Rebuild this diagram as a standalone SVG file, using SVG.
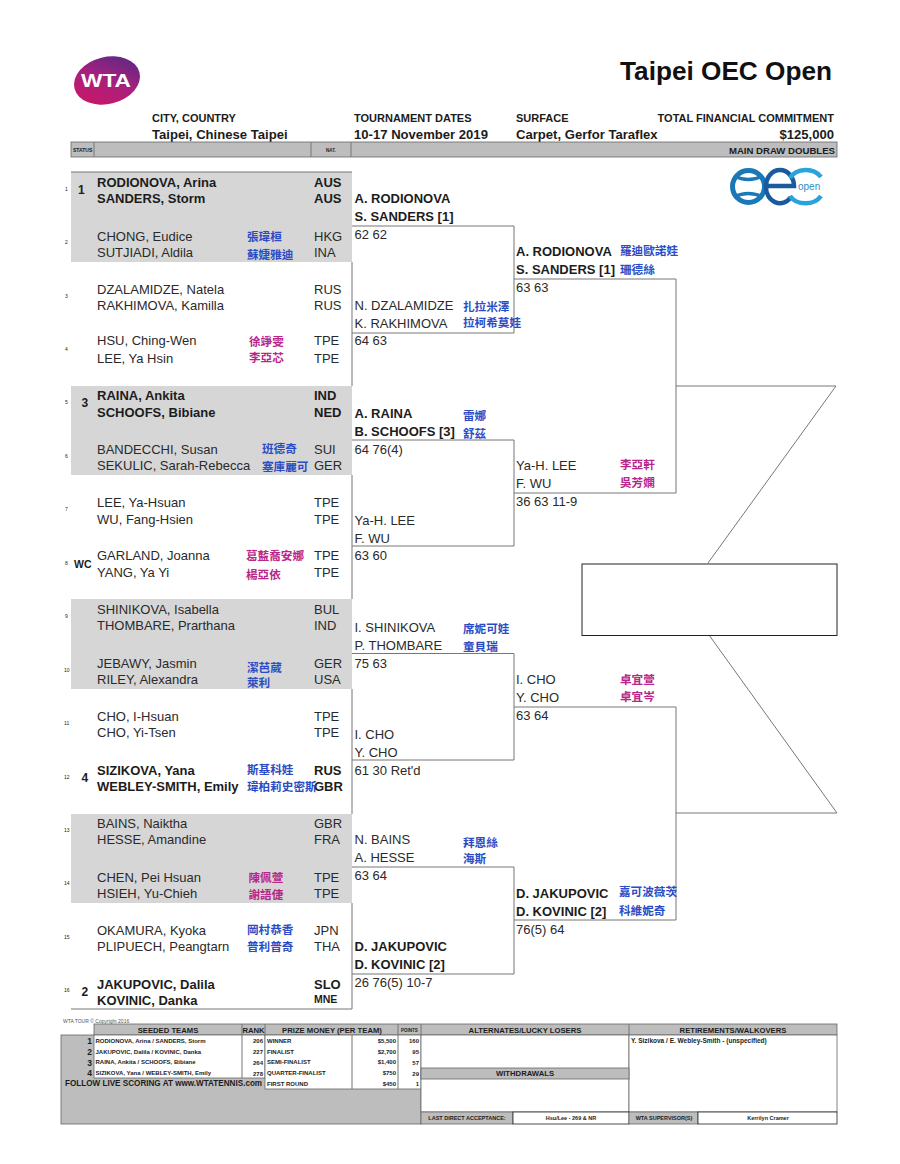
<svg xmlns="http://www.w3.org/2000/svg" width="900" height="1164" viewBox="0 0 900 1164">
<style>
text{font-family:"Liberation Sans",Arial,sans-serif;fill:#1c1c1c}
.h{font-size:11px;font-weight:700}
.s{font-size:13.100px;font-weight:700}
.n{font-size:13px;fill:#2a2a2a}
.b{font-size:13px;font-weight:700}
.c{font-size:11.600px;font-family:"Noto Sans CJK TC","Noto Sans CJK SC",sans-serif;font-weight:700}
.blue{fill:#2b4cc4}
.mag{fill:#b8268a}
.i{font-size:5px;fill:#555}
.sd{font-size:12px;font-weight:700}
.w{font-size:6px;font-weight:700}
.x{font-size:5.500px;font-weight:700;text-anchor:middle}
.f{font-size:7.700px;font-weight:700;text-anchor:middle}
.gl{fill:#d6d6d6}
.l{stroke:#777;stroke-width:1;fill:none}
.hd{fill:#bdbdbd;stroke:#666;stroke-width:.8}
.wt{fill:#fff;stroke:#666;stroke-width:.8}
</style>
<defs>
<linearGradient id="wg" x1="0" y1="1" x2="1" y2="0">
<stop offset="0" stop-color="#d4145f"/><stop offset=".5" stop-color="#a8207e"/><stop offset="1" stop-color="#4a2a86"/>
</linearGradient>
</defs>
<rect width="900" height="1164" fill="#fff"/>

<g id="wta-logo">
<ellipse cx="107" cy="80.500" rx="33.500" ry="23.500" fill="url(#wg)" transform="rotate(-14 107 80.500)"/>
<text x="81" y="87" textLength="50" lengthAdjust="spacingAndGlyphs" style="fill:#fff;font-size:19px;font-weight:700">WTA</text>
</g>
<text x="832" y="80" text-anchor="end" style="font-size:26.200px;font-weight:700;fill:#111">Taipei OEC Open</text>

<g id="header">
<text x="152" y="122" class="h">CITY, COUNTRY</text>
<text x="152" y="139" class="s">Taipei, Chinese Taipei</text>
<text x="354" y="122" class="h">TOURNAMENT DATES</text>
<text x="354" y="139" class="s">10-17 November 2019</text>
<text x="516" y="122" class="h">SURFACE</text>
<text x="516" y="139" class="s">Carpet, Gerfor Taraflex</text>
<text x="834" y="122" class="h" text-anchor="end">TOTAL FINANCIAL COMMITMENT</text>
<text x="834" y="139" class="s" text-anchor="end">$125,000</text>
<rect x="71" y="142" width="766" height="15" class="hd"/>
<path d="M94 142V157M311 142V157M351 142V157" class="l"/>
<text x="73" y="151.500" style="font-size:5px;font-weight:700">STATUS</text>
<text x="326" y="151.500" style="font-size:4.500px;font-weight:700">NAT.</text>
<text x="835" y="153.500" text-anchor="end" style="font-size:9.600px;font-weight:700">MAIN DRAW DOUBLES</text>
</g>

<g id="oec-logo" fill="none">
<ellipse cx="748.500" cy="186.500" rx="16" ry="16" stroke="#1878b8" stroke-width="5"/>
<path d="M734 176Q748 183 763 176M734 197Q748 190 763 197" stroke="#1878b8" stroke-width="3.500"/>
<path d="M768 186H794A14 16 0 0 0 766 186A14 16 0 0 0 791 197" stroke="#1a5a9e" stroke-width="4.500"/>
<path d="M821 177A18 15 0 0 0 790 178M790 196A18 15 0 0 0 821 196" stroke="#29a3dc" stroke-width="4.500"/>
<text x="798" y="190" style="font-size:10px;fill:#2b90c8">open</text>
</g>

<g id="bands">
<rect x="71" y="172" width="281" height="90" class="gl"/>
<rect x="71" y="386" width="281" height="89" class="gl"/>
<rect x="71" y="599" width="281" height="90" class="gl"/>
<rect x="71" y="814" width="281" height="89" class="gl"/>
<path d="M71 172H352M71 1009H352" class="l"/>
</g>

<g id="connectors">
<path d="M352 262V386M352 475V599M352 689V814M352 903V1009" class="l"/>
<path d="M352 226H514V333H352M352 440H514V546H352M352 653.500H514V760H352M352 867H514V974H352" class="l"/>
<path d="M514 279H676V493H514M514 707H676V920H514" class="l"/>
<path d="M676 386H836L708 563M709 635L837 813H676" class="l"/>
</g>
<rect id="final-box" x="582" y="564" width="255" height="71.500" fill="#fff" stroke="#222" stroke-width="1"/>

<g id="seed-numbers">
<g class="i"><text x="65" y="191">1</text><text x="65" y="244">2</text><text x="65" y="298">3</text><text x="65" y="351">4</text><text x="65" y="404">5</text><text x="65" y="458">6</text><text x="65" y="511">7</text><text x="65" y="565">8</text><text x="65" y="618">9</text><text x="64" y="672">10</text><text x="64" y="725">11</text><text x="64" y="779">12</text><text x="64" y="832">13</text><text x="64" y="885">14</text><text x="64" y="939">15</text><text x="64" y="992">16</text></g>
<text x="78" y="194" class="sd">1</text><text x="81.500" y="407" class="sd">3</text><text x="74" y="568" style="font-size:10.500px;font-weight:700">WC</text><text x="81.500" y="782" class="sd">4</text><text x="81.500" y="996" class="sd">2</text>
</g>

<g transform="translate(0,-.5)">
<g id="entry-1-2"><text x="97" y="187" class="b">RODIONOVA, Arina</text><text x="97" y="203" class="b">SANDERS, Storm</text><text x="314" y="187" class="b">AUS</text><text x="314" y="203" class="b">AUS</text>
<text x="97" y="241" class="n">CHONG, Eudice</text><text x="97" y="257" class="n">SUTJIADI, Aldila</text><text x="314" y="241" class="n">HKG</text><text x="314" y="257" class="n">INA</text><text x="247" y="241" class="c blue">張瑋桓</text><text x="247" y="259" class="c blue">蘇婕雅迪</text></g>
<g id="entry-3-4"><text x="97" y="294" class="n">DZALAMIDZE, Natela</text><text x="97" y="310" class="n">RAKHIMOVA, Kamilla</text><text x="314" y="294" class="n">RUS</text><text x="314" y="310" class="n">RUS</text>
<text x="97" y="345" class="n">HSU, Ching-Wen</text><text x="97" y="363" class="n">LEE, Ya Hsin</text><text x="314" y="345" class="n">TPE</text><text x="314" y="363" class="n">TPE</text><text x="249" y="346" class="c mag">徐竫雯</text><text x="249" y="362" class="c mag">李亞芯</text></g>
<g id="entry-5-6"><text x="97" y="400.500" class="b">RAINA, Ankita</text><text x="97" y="417" class="b">SCHOOFS, Bibiane</text><text x="314" y="400.500" class="b">IND</text><text x="314" y="417" class="b">NED</text>
<text x="97" y="454" class="n">BANDECCHI, Susan</text><text x="97" y="470" class="n">SEKULIC, Sarah-Rebecca</text><text x="314" y="454" class="n">SUI</text><text x="314" y="470" class="n">GER</text><text x="262" y="453" class="c blue">班德奇</text><text x="262" y="471" class="c blue">塞庫麗可</text></g>
<g id="entry-7-8"><text x="97" y="507.500" class="n">LEE, Ya-Hsuan</text><text x="97" y="524" class="n">WU, Fang-Hsien</text><text x="314" y="507.500" class="n">TPE</text><text x="314" y="524" class="n">TPE</text>
<text x="97" y="560.500" class="n">GARLAND, Joanna</text><text x="97" y="577" class="n">YANG, Ya Yi</text><text x="314" y="560.500" class="n">TPE</text><text x="314" y="577" class="n">TPE</text><text x="246" y="560.500" class="c mag">葛藍喬安娜</text><text x="246" y="579" class="c mag">楊亞依</text></g>
<g id="entry-9-10"><text x="97" y="614.500" class="n">SHINIKOVA, Isabella</text><text x="97" y="630.500" class="n">THOMBARE, Prarthana</text><text x="314" y="614.500" class="n">BUL</text><text x="314" y="630.500" class="n">IND</text>
<text x="97" y="668" class="n">JEBAWY, Jasmin</text><text x="97" y="684" class="n">RILEY, Alexandra</text><text x="314" y="668" class="n">GER</text><text x="314" y="684" class="n">USA</text><text x="247" y="672" class="c blue">潔芭葳</text><text x="247" y="687" class="c blue">萊利</text></g>
<g id="entry-11-12"><text x="97" y="721" class="n">CHO, I-Hsuan</text><text x="97" y="737.500" class="n">CHO, Yi-Tsen</text><text x="314" y="721" class="n">TPE</text><text x="314" y="737.500" class="n">TPE</text>
<text x="97" y="775" class="b">SIZIKOVA, Yana</text><text x="97" y="791" class="b">WEBLEY-SMITH, Emily</text><text x="314" y="775" class="b">RUS</text><text x="314" y="791" class="b">GBR</text><text x="247" y="774.500" class="c blue">斯基科娃</text><text x="247" y="791" class="c blue">瑋柏莉史密斯</text></g>
<g id="entry-13-14"><text x="97" y="828" class="n">BAINS, Naiktha</text><text x="97" y="844" class="n">HESSE, Amandine</text><text x="314" y="828" class="n">GBR</text><text x="314" y="844" class="n">FRA</text>
<text x="97" y="882" class="n">CHEN, Pei Hsuan</text><text x="97" y="898" class="n">HSIEH, Yu-Chieh</text><text x="314" y="882" class="n">TPE</text><text x="314" y="898" class="n">TPE</text><text x="248.500" y="882" class="c mag">陳佩萱</text><text x="248.500" y="899" class="c mag">謝語倢</text></g>
<g id="entry-15-16"><text x="97" y="935" class="n">OKAMURA, Kyoka</text><text x="97" y="951" class="n">PLIPUECH, Peangtarn</text><text x="314" y="935" class="n">JPN</text><text x="314" y="951" class="n">THA</text><text x="247" y="934" class="c blue">岡村恭香</text><text x="247" y="951" class="c blue">普利普奇</text>
<text x="97" y="989" class="b">JAKUPOVIC, Dalila</text><text x="97" y="1005" class="b">KOVINIC, Danka</text><text x="314" y="989" class="b">SLO</text><text x="314" y="1003" style="font-size:10.500px;font-weight:700">MNE</text></g>

<g id="round-2">
<text x="354.500" y="203" class="b">A. RODIONOVA</text><text x="354.500" y="221" class="b">S. SANDERS [1]</text><text x="354.500" y="239" class="n">62 62</text>
<text x="354.500" y="310" class="n">N. DZALAMIDZE</text><text x="354.500" y="328" class="n">K. RAKHIMOVA</text><text x="463" y="311" class="c blue">扎拉米澤</text><text x="463" y="327" class="c blue">拉柯希莫娃</text><text x="354.500" y="345" class="n">64 63</text>
<text x="354.500" y="418.500" class="b">A. RAINA</text><text x="354.500" y="436" class="b">B. SCHOOFS [3]</text><text x="463" y="420" class="c blue">雷娜</text><text x="463" y="438" class="c blue">舒茲</text><text x="354.500" y="454" class="n">64 76(4)</text>
<text x="354.500" y="525" class="n">Ya-H. LEE</text><text x="354.500" y="543" class="n">F. WU</text><text x="354.500" y="560.500" class="n">63 60</text>
<text x="354.500" y="632" class="n">I. SHINIKOVA</text><text x="354.500" y="650" class="n">P. THOMBARE</text><text x="463" y="633" class="c blue">席妮可娃</text><text x="463" y="651" class="c blue">童貝瑞</text><text x="354.500" y="668" class="n">75 63</text>
<text x="354.500" y="739" class="n">I. CHO</text><text x="354.500" y="757" class="n">Y. CHO</text><text x="354.500" y="775" class="n">61 30 Ret'd</text>
<text x="354.500" y="844" class="n">N. BAINS</text><text x="354.500" y="862" class="n">A. HESSE</text><text x="463" y="847" class="c blue">拜恩絲</text><text x="463" y="863" class="c blue">海斯</text><text x="354.500" y="880" class="n">63 64</text>
<text x="354.500" y="951" class="b">D. JAKUPOVIC</text><text x="354.500" y="969" class="b">D. KOVINIC [2]</text><text x="354.500" y="987" class="n">26 76(5) 10-7</text>
</g>
<g id="round-3">
<text x="516" y="256.500" class="b">A. RODIONOVA</text><text x="516" y="274.500" class="b">S. SANDERS [1]</text><text x="620" y="255.500" class="c blue">羅迪歐諾娃</text><text x="620" y="274" class="c blue">珊德絲</text><text x="516" y="292" class="n">63 63</text>
<text x="516" y="470" class="n">Ya-H. LEE</text><text x="516" y="488" class="n">F. WU</text><text x="620" y="469" class="c mag">李亞軒</text><text x="620" y="487" class="c mag">吳芳嫻</text><text x="516" y="506" class="n">36 63 11-9</text>
<text x="516" y="684" class="n">I. CHO</text><text x="516" y="702" class="n">Y. CHO</text><text x="620" y="684" class="c mag">卓宜萱</text><text x="620" y="701" class="c mag">卓宜岑</text><text x="516" y="720" class="n">63 64</text>
<text x="516" y="898" class="b">D. JAKUPOVIC</text><text x="516" y="916" class="b">D. KOVINIC [2]</text><text x="619" y="896" class="c blue">嘉可波薇茨</text><text x="619" y="915" class="c blue">科維妮奇</text><text x="516" y="934" class="n">76(5) 64</text>
</g>
</g>

<g id="footer">
<text x="63" y="1023" style="font-size:5px;fill:#555">WTA TOUR © Copyright 2016</text>
<rect x="61" y="1035" width="360" height="89" fill="#bdbdbd" stroke="#666" stroke-width=".8"/>
<rect x="94" y="1024" width="743" height="11" class="hd"/>
<path d="M242 1024V1035M265 1024V1035M398 1024V1035M421 1024V1035M629 1024V1035" class="l"/>
<rect x="94" y="1035" width="171" height="43" class="wt"/>
<path d="M242 1035V1078" class="l"/>
<rect x="265" y="1035" width="156" height="54" class="wt"/>
<path d="M352 1035V1089M398 1035V1089" class="l"/>
<rect x="421" y="1035" width="208" height="77" class="wt"/>
<rect x="629" y="1035" width="208" height="77" class="wt"/>
<rect x="421" y="1068" width="208" height="11" class="hd"/>
<rect x="421" y="1112" width="92" height="12" class="hd"/>
<rect x="513" y="1112" width="116" height="12" fill="#fff" stroke="#222" stroke-width=".8"/>
<rect x="629" y="1112" width="69" height="12" class="hd"/>
<rect x="698" y="1112" width="139" height="12" fill="#fff" stroke="#222" stroke-width=".8"/>
<text x="168" y="1032.500" class="f">SEEDED TEAMS</text>
<text x="253.500" y="1033" class="f">RANK</text>
<text x="332" y="1032.500" class="f">PRIZE MONEY (PER TEAM)</text>
<text x="409.500" y="1031.500" style="font-size:4.500px;font-weight:700;text-anchor:middle">POINTS</text>
<text x="525" y="1032.500" class="f">ALTERNATES/LUCKY LOSERS</text>
<text x="733" y="1032.500" class="f">RETIREMENTS/WALKOVERS</text>
<text x="525" y="1075.500" class="f">WITHDRAWALS</text>
<g text-anchor="end" style="font-size:8.500px;font-weight:700"><text x="92" y="1043.500">1</text><text x="92" y="1054.500">2</text><text x="92" y="1065.500">3</text><text x="92" y="1076">4</text></g>
<text x="95.500" y="1042.500" class="w">RODIONOVA, Arina / SANDERS, Storm</text>
<text x="95.500" y="1053.500" class="w">JAKUPOVIC, Dalila / KOVINIC, Danka</text>
<text x="95.500" y="1064" class="w">RAINA, Ankita / SCHOOFS, Bibiane</text>
<text x="95.500" y="1075" class="w">SIZIKOVA, Yana / WEBLEY-SMITH, Emily</text>
<g class="w" text-anchor="end"><text x="263" y="1043">206</text><text x="263" y="1054">227</text><text x="263" y="1064.500">264</text><text x="263" y="1075.500">278</text></g>
<text x="65" y="1086" style="font-size:8.150px;font-weight:700">FOLLOW LIVE SCORING AT www.WTATENNIS.com</text>
<text x="267" y="1042.500" class="w">WINNER</text><text x="267" y="1053.500" class="w">FINALIST</text><text x="267" y="1064" class="w">SEMI-FINALIST</text><text x="267" y="1075" class="w">QUARTER-FINALIST</text><text x="267" y="1086" class="w">FIRST ROUND</text>
<g class="w" text-anchor="end"><text x="396" y="1042.500">$5,500</text><text x="396" y="1053.500">$2,700</text><text x="396" y="1064">$1,400</text><text x="396" y="1075">$750</text><text x="396" y="1086">$450</text>
<text x="419" y="1043">160</text><text x="419" y="1054">95</text><text x="419" y="1064.500">57</text><text x="419" y="1075.500">29</text><text x="419" y="1086">1</text></g>
<text x="631" y="1042.500" style="font-size:6.500px;font-weight:700">Y. Sizikova / E. Webley-Smith - (unspecified)</text>
<text x="467" y="1119.500" class="x">LAST DIRECT ACCEPTANCE:</text>
<text x="571" y="1119.500" class="x">Hsu/Lee - 269 &amp; NR</text>
<text x="664" y="1119.500" class="x">WTA SUPERVISOR(S)</text>
<text x="768" y="1119.500" class="x">Kerrilyn Cramer</text>
</g>
</svg>
